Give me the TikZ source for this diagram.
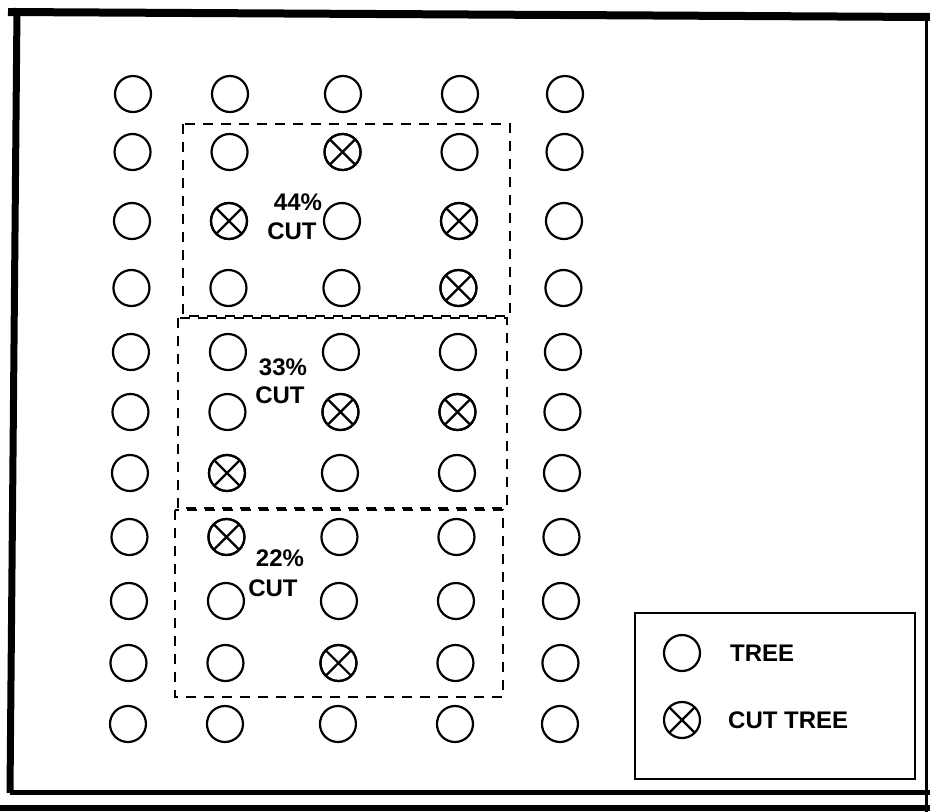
\documentclass[tikz,border=0pt]{standalone}
\usepackage{fontspec}
\setmainfont{Liberation Sans}
\tikzset{
  tree/.style={circle,draw,line width=2.2pt,minimum size=36pt,inner sep=0pt},
  cuttree/.style={tree,path picture={
     \draw[line width=2.2pt] (path picture bounding box.north west) -- (path picture bounding box.south east)
                           (path picture bounding box.north east) -- (path picture bounding box.south west);}},
  plot/.style={draw,line width=2.6pt,dash pattern=on 10pt off 8pt},
  lbl/.style={font=\bfseries\fontsize{24}{27}\selectfont,inner sep=0pt,align=center},
}
\begin{document}
\begin{tikzpicture}[x=1pt,y=-1pt]
\useasboundingbox (0,0) rectangle (930,812);
\fill[white] (0,0) rectangle (930,812);
% outer frame
\draw[line width=8pt] (8,12) -- (930,17);
\draw[line width=7pt] (17,8) -- (10,793);
\draw[line width=5pt] (10,792) -- (930,792);
\draw[line width=3pt] (926,17) -- (926,812);
\draw[line width=6pt] (0,808) -- (930,808);
% trees
\foreach \r/\y in {1/94,2/152,3/221,4/288,5/352,6/412,7/473,8/537,9/601,10/663,11/724}{
  \foreach \c/\x in {1/133,2/230,3/343,4/460,5/565}{
    \node[tree] (t\r-\c) at (\x-0.008*\y+0.75,\y) {};
  }
}
% cut trees (overlay crosses)
\foreach \r/\c in {2/3,3/2,3/4,4/4,6/3,6/4,7/2,8/2,10/3}{
  \node[cuttree] (x\r-\c) at (t\r-\c) {};
}
% plots
\draw[plot] (183,124) rectangle (510,316);
\draw[plot] (178,318) rectangle (507,508);
\draw[plot] (175,510) rectangle (503,697);
% labels
\node[lbl] (p44) at (298,202) {44\%};
\node[lbl] (c44) at (292,231) {CUT};
\node[lbl] (p33) at (283,367) {33\%};
\node[lbl] (c33) at (280,395) {CUT};
\node[lbl] (p22) at (280,558) {22\%};
\node[lbl] (c22) at (273,588) {CUT};
% legend
\draw[line width=2pt] (635,613) rectangle (915,779);
\node[tree] (legtree) at (682,653) {};
\node[cuttree] (legcut) at (682,720) {};
\node[lbl,anchor=west] (legtreetxt) at (730,653) {TREE};
\node[lbl,anchor=west] (legcuttxt) at (728,720) {CUT TREE};
\end{tikzpicture}
\end{document}
